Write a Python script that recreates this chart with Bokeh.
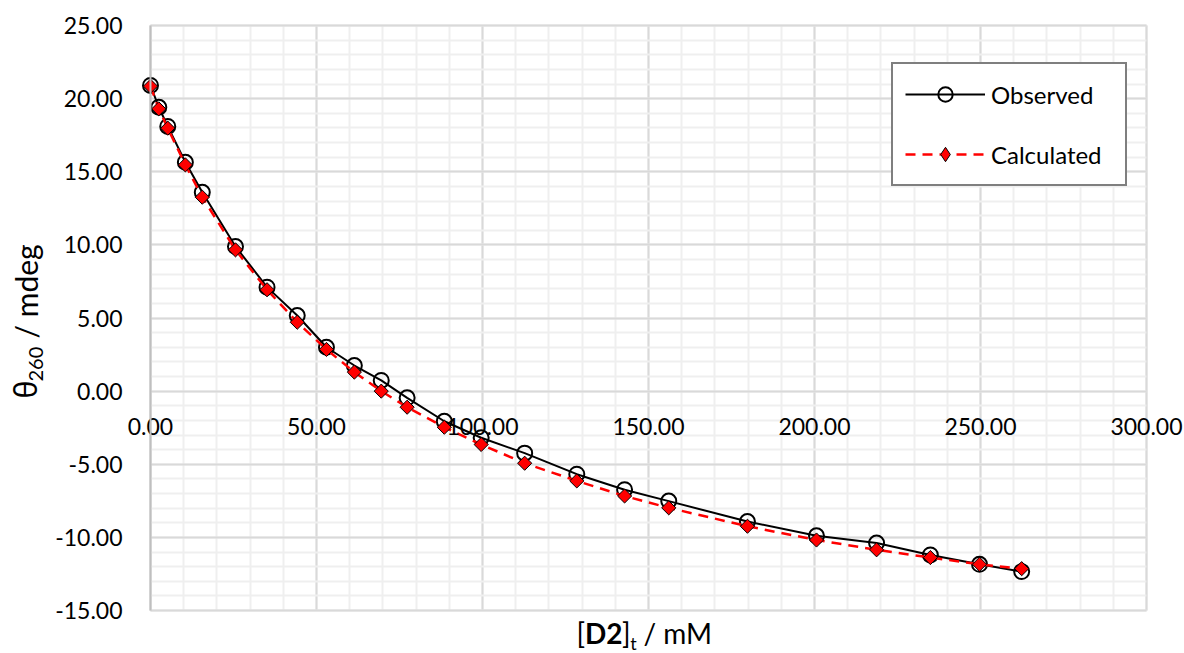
import numpy as np
from bokeh.plotting import figure
from bokeh.models import (Range1d, FixedTicker, PrintfTickFormatter, Label,
                          Legend, LegendItem, BoxAnnotation)
from bokeh.embed import file_html
from bokeh.resources import INLINE

# ---- data ----
conc = [0.0, 2.5, 5.2, 10.5, 15.6, 25.6, 35.1, 44.2, 53.0, 61.4, 69.5, 77.3,
        88.5, 99.6, 112.7, 128.4, 142.8, 156.1, 179.8, 200.6, 218.7, 234.9,
        249.7, 262.4]
observed = [20.90, 19.41, 18.10, 15.65, 13.60, 9.89, 7.11, 5.17, 3.00, 1.75,
            0.73, -0.46, -2.06, -3.19, -4.24, -5.68, -6.74, -7.52, -8.92,
            -9.89, -10.39, -11.20, -11.84, -12.34]
calculated = [20.85, 19.30, 17.98, 15.47, 13.26, 9.66, 6.93, 4.71, 2.85, 1.30,
              0.00, -1.10, -2.47, -3.65, -4.93, -6.14, -7.17, -7.98, -9.24,
              -10.18, -10.85, -11.38, -11.84, -12.14]
x_ticks = [0, 50, 100, 150, 200, 250, 300]
y_ticks = [-15, -10, -5, 0, 5, 10, 15, 20, 25]
series_names = ["Observed", "Calculated"]

X0, X1, Y0, Y1 = 0, 300, -15, 25
FONT = "Lato"
W, H = 1184, 653                      # canvas
FL, FT, FW, FH = 150, 25, 996, 585    # plot area inside the canvas (pixels)

# the frame covers the whole canvas so that titles and labels are never clipped;
# the ranges are extended so the plot area keeps the reference geometry
sx = (X1 - X0) / FW
sy = (Y1 - Y0) / FH
xr = Range1d(X0 - FL * sx, X0 + (W - FL) * sx)
yr = Range1d(Y1 - (H - FT) * sy, Y1 + FT * sy)

p = figure(frame_width=W, frame_height=H, min_border=0,
           x_range=xr, y_range=yr, output_backend="svg", toolbar_location=None)
p.background_fill_color = "white"
p.border_fill_color = "white"
p.outline_line_color = None

x_minor = list(np.arange(X0, X1 + 0.1, 10))
y_minor = list(np.arange(Y0, Y1 + 0.1, 1))

# grids limited to the plot area
p.xgrid.ticker = FixedTicker(ticks=x_ticks, minor_ticks=x_minor)
p.ygrid.ticker = FixedTicker(ticks=y_ticks, minor_ticks=y_minor)
p.xgrid.bounds = (X0, X1)
p.ygrid.bounds = (Y0, Y1)
p.xgrid.cross_bounds = (Y0, Y1)
p.ygrid.cross_bounds = (X0, X1)
for g in (p.xgrid, p.ygrid):
    g.grid_line_color = "#d9d9d9"
    g.grid_line_width = 2
    g.minor_grid_line_color = "#efefef"
    g.minor_grid_line_width = 2

# plot-area border
p.add_layout(BoxAnnotation(left=X0, right=X1, bottom=Y0, top=Y1,
                           fill_alpha=0, line_color="#d9d9d9", line_width=2,
                           level="underlay"))


def plain_axis(ax):
    ax.major_tick_line_color = None
    ax.minor_tick_line_color = None
    ax.major_tick_out = 0
    ax.minor_tick_out = 0
    ax.major_tick_in = 0
    ax.minor_tick_in = 0


# x axis: crosses the value axis at zero, labels just below that line
xa = p.xaxis[0]
xa.ticker = FixedTicker(ticks=x_ticks, minor_ticks=x_minor)
xa.formatter = PrintfTickFormatter(format="%.2f")
xa.fixed_location = 0
xa.bounds = (X0, X1)
xa.axis_line_color = None
plain_axis(xa)
xa.major_label_standoff = 27
xa.major_label_text_font = FONT
xa.major_label_text_font_size = "23px"
xa.major_label_text_color = "black"

# y axis at x = 0
ya = p.yaxis[0]
ya.ticker = FixedTicker(ticks=y_ticks, minor_ticks=y_minor)
ya.formatter = PrintfTickFormatter(format="%.2f")
ya.fixed_location = X0
ya.bounds = (Y0, Y1)
ya.axis_line_color = "#bfbfbf"
ya.axis_line_width = 2
plain_axis(ya)
ya.major_label_standoff = 28
ya.major_label_text_font = FONT
ya.major_label_text_font_size = "23px"
ya.major_label_text_color = "black"

# series
obs_line = p.line(conc, observed, line_color="black", line_width=2)
obs_pts = p.scatter(conc, observed, marker="circle", size=15,
                    fill_color=None, line_color="black", line_width=2)
calc_line = p.line(conc, calculated, line_color="#ff0000", line_width=2.5,
                   line_dash="10 7")
calc_pts = p.scatter(conc, calculated, marker="square", size=10,
                     angle=np.pi / 4, fill_color="#ff0000",
                     line_color="black", line_width=1)
# legend swatch for the diamond marker (a single NaN point: nothing is drawn)
calc_key = p.scatter([np.nan], [np.nan], marker="diamond", size=17,
                     fill_color="#ff0000", line_color="black", line_width=1)

legend = Legend(items=[LegendItem(label=series_names[0], renderers=[obs_line, obs_pts]),
                       LegendItem(label=series_names[1], renderers=[calc_line, calc_key])],
                location=(891, H - 186))
legend.glyph_width = 80
legend.glyph_height = 36
legend.padding = 12
legend.spacing = 24
legend.label_standoff = 6
legend.label_width = 122
legend.margin = 0
legend.label_text_font = FONT
legend.label_text_font_size = "24px"
legend.label_text_color = "black"
legend.border_line_color = "black"
legend.border_line_width = 2
legend.background_fill_color = "white"
legend.background_fill_alpha = 1
p.add_layout(legend)


# ---- axis titles, built from pieces (bold / subscript) ----
def dx(px):
    return X0 + (px - FL) * sx


def dy(py):
    return Y1 - (py - FT) * sy


def lab(text, px, py, size, style="normal", angle=0.0, font=FONT):
    p.add_layout(Label(x=dx(px), y=dy(py), text=text, text_font=font,
                       text_font_size=size, text_font_style=style,
                       text_color="black", angle=angle,
                       text_align="left", text_baseline="alphabetic"))


# x title: [D2]t / mM   (28px, subscript 18px)
lab("[", 576.0, 632, "28px")
lab("D2", 584.4, 632, "28px", style="bold")
lab("]", 621.4, 632, "28px")
lab("t", 629.8, 642, "18px")
lab("/ mM", 643.0, 632, "28px")

# y title: θ260 / mdeg   (30px, subscript 20px), reading upwards
rot = np.pi / 2
lab("θ", 25, 398, "30px", angle=rot, font="Noto Sans")
lab("260", 35, 381, "20px", angle=rot)
lab("/ mdeg", 25, 338, "30px", angle=rot)

open("out.html", "w").write(file_html(p, INLINE))
